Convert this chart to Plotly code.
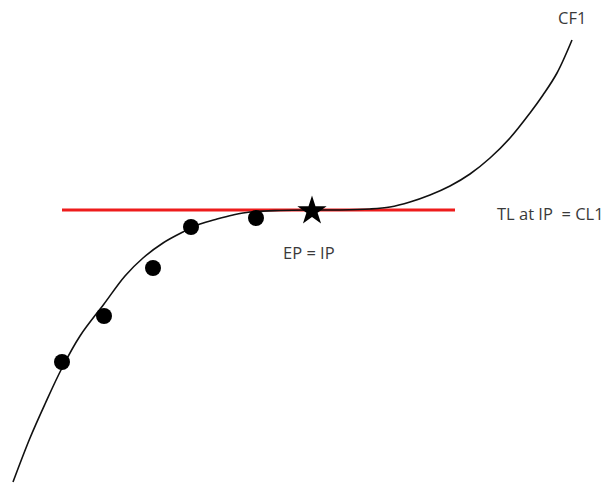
import plotly.graph_objects as go

# Cost function curve, sampled along its path (x, y in plot units)
curve_x = [13, 30, 45, 62, 80, 104, 125, 143, 163, 183, 200, 217, 233, 250, 280,
           310, 340, 370, 390, 410, 430, 450, 470, 490, 510, 530, 543, 557, 572]
curve_y = [1, 45, 79, 115, 147, 179, 207, 225, 240, 251, 259, 264, 268, 271, 272.5,
           273, 273, 274, 276, 281, 288, 297, 309, 325, 345, 370, 388, 410, 443]

# Observed points
obs_x = [62, 104, 153, 191, 256]
obs_y = [121, 167, 215, 256, 265]

# Inflection point (EP = IP)
ip_x = [312]
ip_y = [272]

# Tangent line at the inflection point
tl_x = [62, 455]
tl_y = [273, 273]

fig = go.Figure()
fig.add_trace(go.Scatter(x=tl_x, y=tl_y, mode="lines",
                         line=dict(color="#ee1c1c", width=3.2), hoverinfo="skip"))
fig.add_trace(go.Scatter(x=curve_x, y=curve_y, mode="lines",
                         line=dict(color="#111111", width=1.6, shape="spline", smoothing=1.0),
                         hoverinfo="skip"))
fig.add_trace(go.Scatter(x=obs_x, y=obs_y, mode="markers",
                         marker=dict(symbol="circle", size=16, color="black")))
fig.add_trace(go.Scatter(x=ip_x, y=ip_y, mode="markers",
                         marker=dict(symbol="star", size=22, color="black")))

font = dict(family="Open Sans, Noto Sans, sans-serif", size=16.5, color="#3a3a3a")
fig.add_annotation(x=572, y=466, text="CF1", showarrow=False, xanchor="center",
                   yanchor="middle", font=font)
fig.add_annotation(x=495, y=270, text="TL at IP&nbsp;&nbsp;= CL1", showarrow=False,
                   xanchor="left", yanchor="middle", font=font)
fig.add_annotation(x=281, y=231, text="EP = IP", showarrow=False, xanchor="left",
                   yanchor="middle", font=font)

fig.update_xaxes(range=[0, 607], visible=False, fixedrange=True)
fig.update_yaxes(range=[0, 483], visible=False, fixedrange=True)
fig.update_layout(width=607, height=483, margin=dict(l=0, r=0, t=0, b=0),
                  plot_bgcolor="white", paper_bgcolor="white", showlegend=False)

fig.write_html("out.html")
